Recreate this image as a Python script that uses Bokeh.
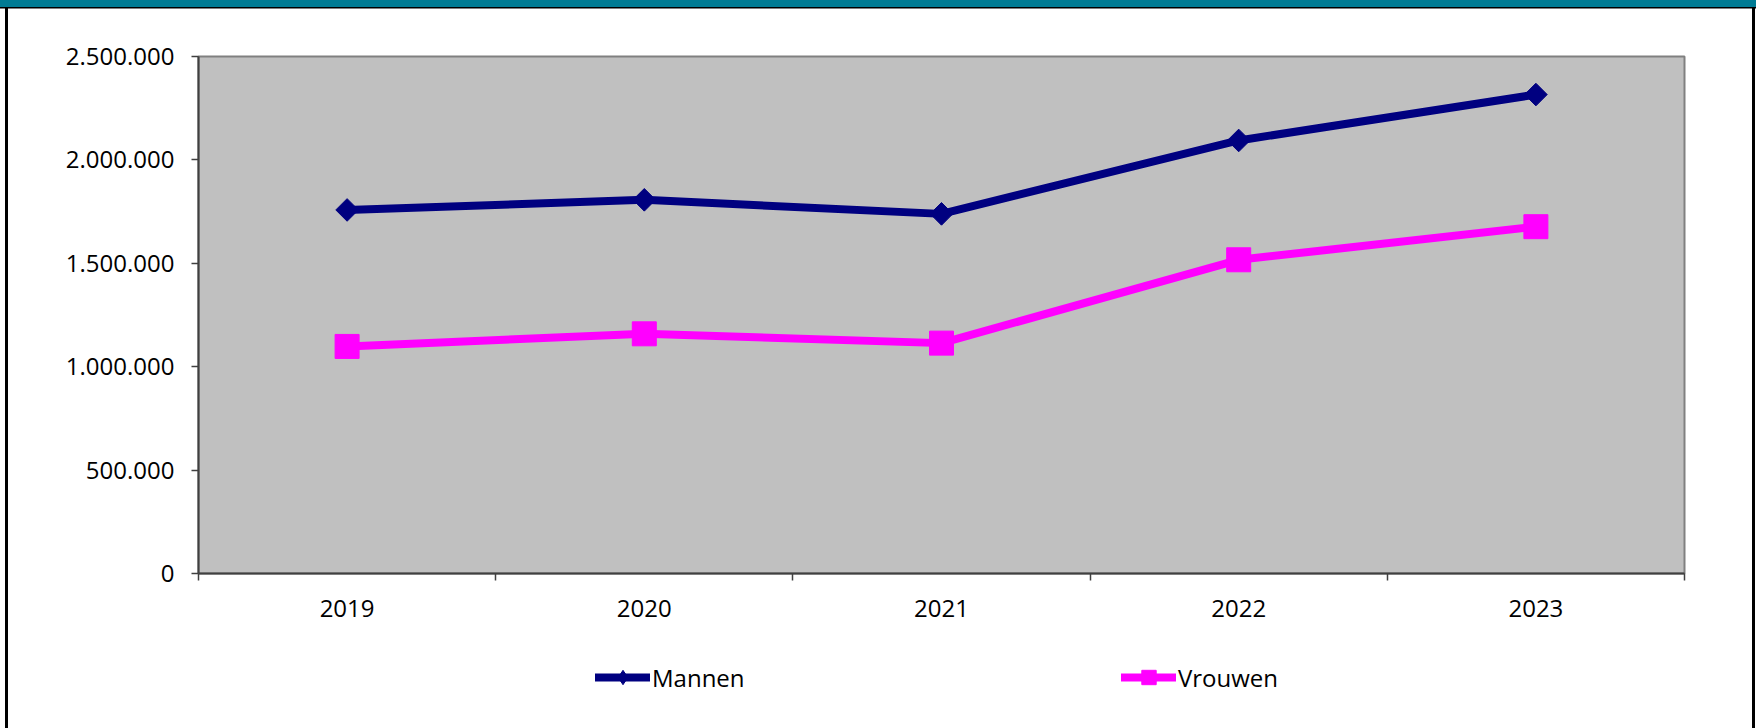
import math
from bokeh.plotting import figure
from bokeh.layouts import column
from bokeh.models import Range1d, FixedTicker, Legend, LegendItem
from bokeh.embed import file_html
from bokeh.resources import INLINE

# ---- data ----
years = ["2019", "2020", "2021", "2022", "2023"]
mannen = [1758000, 1807000, 1739000, 2094000, 2316000]
vrouwen = [1098000, 1159000, 1114000, 1517000, 1677000]
series_names = ["Mannen", "Vrouwen"]
y_ticks = [0, 500000, 1000000, 1500000, 2000000, 2500000]
y_tick_labels = ["0", "500.000", "1.000.000", "1.500.000", "2.000.000", "2.500.000"]

FONT = "Open Sans"
W = 1756
H_MAIN, H_LEG = 640, 88
NAVY = "#000080"
MAGENTA = "#FF00FF"
AXIS = "#404040"
TEAL = "#007B94"

xs = [i + 0.5 for i in range(len(years))]
bounds = list(range(len(years) + 1))

p = figure(width=W, height=H_MAIN, output_backend="svg", toolbar_location=None,
           x_range=Range1d(0, len(years)), y_range=Range1d(y_ticks[0], y_ticks[-1]),
           min_border_left=198, min_border_right=72, min_border_top=56,
           min_border_bottom=H_MAIN - 573)
p.background_fill_color = "#C0C0C0"
p.border_fill_color = None
p.outline_line_color = "#808080"
p.outline_line_width = 2
p.xgrid.visible = False
p.ygrid.visible = False

# y axis
ya = p.yaxis[0]
ya.ticker = FixedTicker(ticks=y_ticks)
ya.major_label_overrides = dict(zip(y_ticks, y_tick_labels))
ya.major_label_text_font = FONT
ya.major_label_text_font_size = "24px"
ya.major_label_text_color = "black"
ya.major_label_standoff = 17
ya.major_tick_in = 0
ya.major_tick_out = 7
ya.major_tick_line_color = AXIS
ya.major_tick_line_width = 1.5
ya.minor_tick_line_color = None
ya.axis_line_color = AXIS
ya.axis_line_width = 2

# x axis
xa = p.xaxis[0]
xa.ticker = FixedTicker(ticks=xs, minor_ticks=bounds)
xa.major_label_overrides = dict(zip(xs, years))
xa.major_label_text_font = FONT
xa.major_label_text_font_size = "24px"
xa.major_label_text_color = "black"
xa.major_label_standoff = 19
xa.major_tick_in = 0
xa.major_tick_out = 0
xa.major_tick_line_color = None
xa.minor_tick_in = 0
xa.minor_tick_out = 7
xa.minor_tick_line_color = AXIS
xa.minor_tick_line_width = 1.5
xa.axis_line_color = AXIS
xa.axis_line_width = 2

def draw_series(fig, legend_keys=False):
    l1 = fig.line(xs, mannen, line_color=NAVY, line_width=8, line_cap="round")
    if legend_keys:
        s1 = fig.scatter(xs, mannen, marker="diamond", size=20,
                         fill_color=NAVY, line_color=NAVY)
    else:
        s1 = fig.scatter(xs, mannen, marker="square", angle=math.pi / 4, size=16,
                         fill_color=NAVY, line_color=NAVY)
    l2 = fig.line(xs, vrouwen, line_color=MAGENTA, line_width=8, line_cap="round")
    s2 = fig.scatter(xs, vrouwen, marker="square", size=24,
                     fill_color=MAGENTA, line_color=MAGENTA)
    return [l1, s1], [l2, s2]

draw_series(p)

# ---- legend strip below the chart (same series, drawn off-range so only the keys show) ----
q = figure(width=W, height=H_LEG, output_backend="svg", toolbar_location=None,
           x_range=Range1d(0, W), y_range=Range1d(0, H_LEG),
           x_axis_location=None, y_axis_location=None, min_border=0)
q.background_fill_color = None
q.border_fill_color = None
q.outline_line_color = None
q.xgrid.visible = False
q.ygrid.visible = False
r_m, r_v = draw_series(q, legend_keys=True)

legend = Legend(items=[LegendItem(label=series_names[0], renderers=r_m),
                       LegendItem(label=series_names[1], renderers=r_v)],
                location=(397, 33), orientation="horizontal", padding=0, margin=0,
                spacing=369, glyph_width=55, glyph_height=36, label_height=30,
                label_width=100, label_standoff=2, label_text_font=FONT,
                label_text_font_size="24px", label_text_color="black",
                border_line_alpha=0, background_fill_alpha=0)
q.add_layout(legend)

layout = column(p, q, spacing=0)
layout.styles = {
    "background-color": "white",
    "box-shadow": ", ".join([
        "inset 0 7px 0 0 " + TEAL,
        "inset 0 8.5px 0 0 black",
        "inset 5px 0 0 0 white",
        "inset 8px 0 0 0 black",
        "inset -1px 0 0 0 white",
        "inset -4px 0 0 0 black",
    ]),
}

open("out.html", "w").write(file_html(layout, INLINE))
